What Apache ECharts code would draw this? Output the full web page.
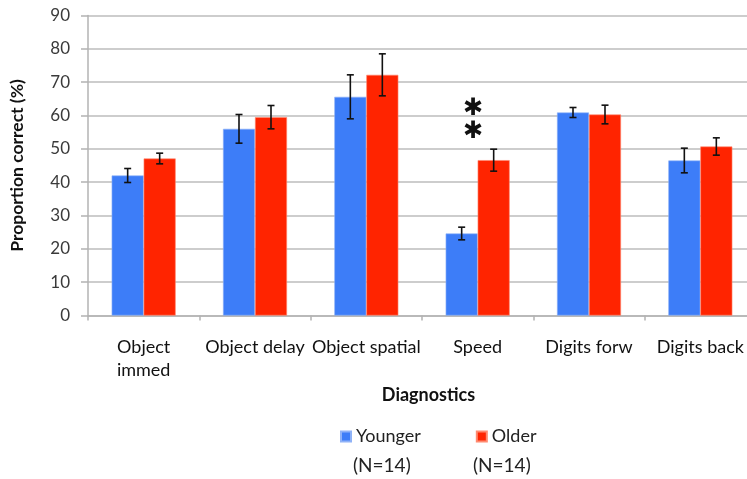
<!DOCTYPE html>
<html>
<head>
<meta charset="utf-8">
<script src="https://cdn.jsdelivr.net/npm/echarts@6/dist/echarts.min.js"></script>
<style>
  html, body { margin: 0; padding: 0; background: #fff; overflow: hidden; }
  /* canvas is a little wider than the window so the plot runs past the right edge */
  #chart { width: 757px; height: 479px; }
</style>
</head>
<body>
<div id="chart"></div>
<script>
// Test categories and group means with their error half-widths (% correct)
var categories = ['Object\nimmed', 'Object delay', 'Object spatial', 'Speed', 'Digits forw', 'Digits back'];
var youngerMeans = [42.0, 56.0, 65.6, 24.6, 60.9, 46.5];
var youngerErr   = [2.1, 4.3, 6.6, 1.9, 1.5, 3.7];
var olderMeans   = [47.1, 59.5, 72.2, 46.6, 60.3, 50.7];
var olderErr     = [1.6, 3.5, 6.3, 3.3, 2.8, 2.6];
var yTicks = { min: 0, max: 90, step: 10 };
var groupSizes = ['(N=14)', '(N=14)'];

var BAR_W = 32;
var FONT = 'Lato, "Open Sans", "DejaVu Sans", sans-serif';

function errorSeries(name, means, errs, offset) {
  return {
    type: 'custom',
    name: name + ' error',
    z: 5,
    silent: true,
    data: means.map(function (m, i) { return [i, m - errs[i], m + errs[i]]; }),
    encode: { x: 0, y: [1, 2] },
    renderItem: function (params, api) {
      var lo = api.coord([api.value(0), api.value(1)]);
      var hi = api.coord([api.value(0), api.value(2)]);
      var x = lo[0] + offset;
      var cap = 3.5;
      var style = { stroke: '#111', lineWidth: 1.6 };
      return {
        type: 'group',
        children: [
          { type: 'line', shape: { x1: x, y1: lo[1], x2: x, y2: hi[1] }, style: style },
          { type: 'line', shape: { x1: x - cap, y1: hi[1], x2: x + cap, y2: hi[1] }, style: style },
          { type: 'line', shape: { x1: x - cap, y1: lo[1], x2: x + cap, y2: lo[1] }, style: style }
        ]
      };
    }
  };
}

var chart = echarts.init(document.getElementById('chart'), null, { renderer: 'canvas' });

chart.setOption({
  animation: false,
  backgroundColor: '#ffffff',
  grid: { left: 87, right: 1, top: 15.5, bottom: 163.5, containLabel: false },
  legend: {
    data: ['Younger', 'Older'],
    left: 340,
    top: 427.5,
    padding: 0,
    itemWidth: 10,
    itemHeight: 10,
    itemGap: 55,
    icon: 'rect',
    textStyle: { fontFamily: FONT, fontSize: 18, color: '#222' }
  },
  xAxis: {
    type: 'category',
    data: categories,
    name: 'Diagnostics',
    nameLocation: 'middle',
    nameGap: 70,
    nameTextStyle: { fontFamily: FONT, fontSize: 18, fontWeight: 'bold', color: '#111', padding: [0, 0, 0, 13] },
    axisLine: { lineStyle: { color: '#b3b3b3', width: 1.5 } },
    axisTick: { show: true, length: 5, lineStyle: { color: '#b3b3b3', width: 1.5 } },
    axisLabel: { fontFamily: FONT, fontSize: 18, color: '#111', margin: 20, lineHeight: 23, interval: 0 }
  },
  yAxis: {
    type: 'value',
    min: yTicks.min,
    max: yTicks.max,
    interval: yTicks.step,
    name: 'Proportion correct (%)',
    nameLocation: 'middle',
    nameGap: 62,
    nameTextStyle: { fontFamily: FONT, fontSize: 17.5, fontWeight: 'bold', color: '#111' },
    axisLine: { show: true, lineStyle: { color: '#b3b3b3', width: 1.5 } },
    axisTick: { show: true, length: 7, inside: false, lineStyle: { color: '#b3b3b3', width: 1.5 } },
    axisLabel: { fontFamily: FONT, fontSize: 17, color: '#3a3a3a', margin: 18 },
    splitLine: { show: true, lineStyle: { color: '#bdbdbd', width: 1.5 } }
  },
  series: [
    {
      name: 'Younger',
      type: 'bar',
      data: youngerMeans,
      barWidth: BAR_W,
      barGap: '0%',
      itemStyle: { color: '#3d7df8', borderColor: '#8fb2f7', borderWidth: 0.6 }
    },
    {
      name: 'Older',
      type: 'bar',
      data: olderMeans,
      barWidth: BAR_W,
      barGap: '0%',
      itemStyle: { color: '#ff2400', borderColor: '#ff8a70', borderWidth: 0.6 },
      markPoint: {
        symbol: 'rect',
        symbolSize: 0,
        data: [
          { coord: ['Speed', 62.0], value: 0 },
          { coord: ['Speed', 55.1], value: 0 }
        ],
        label: {
          show: true,
          formatter: '\u2731',
          fontSize: 24,
          color: '#111',
          offset: [-20.5, 0]
        }
      }
    },
    errorSeries('Younger', youngerMeans, youngerErr, -BAR_W / 2),
    errorSeries('Older', olderMeans, olderErr, BAR_W / 2)
  ],
  graphic: [
    { type: 'text', left: 353, top: 456, style: { text: groupSizes[0], font: '19px ' + FONT, fill: '#222' } },
    { type: 'text', left: 473, top: 456, style: { text: groupSizes[1], font: '19px ' + FONT, fill: '#222' } }
  ]
});
</script>
</body>
</html>
